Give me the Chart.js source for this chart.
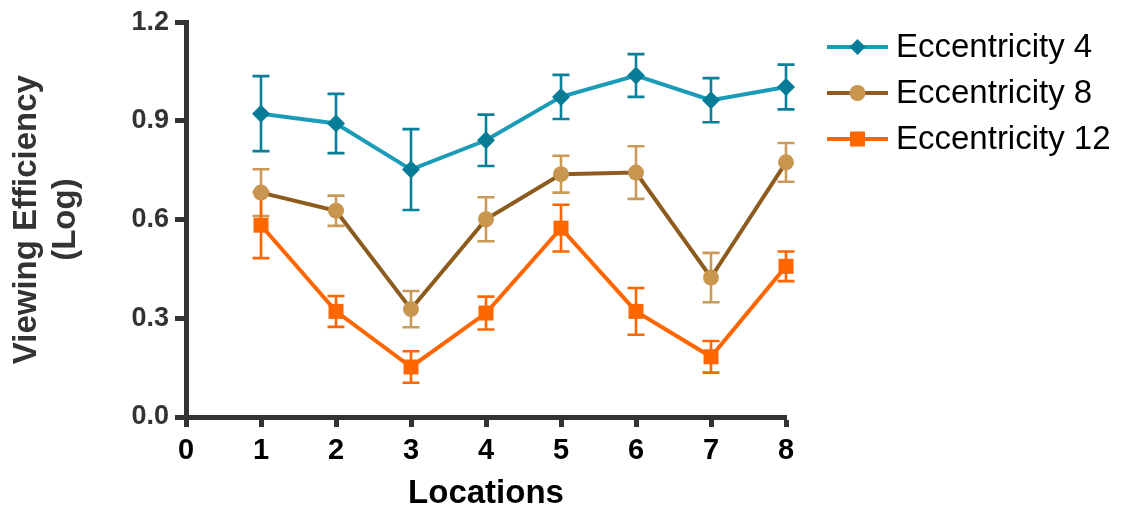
<!DOCTYPE html>
<html>
<head>
<meta charset="utf-8">
<script src="https://cdn.jsdelivr.net/npm/chart.js@4/dist/chart.umd.min.js"></script>
<style>
  html, body { margin: 0; padding: 0; background: #ffffff; }
  #wrap { width: 1123px; height: 510px; position: relative; }
</style>
</head>
<body>
<div id="wrap"><canvas id="c" width="1123" height="510"></canvas></div>
<script>
// ---- data ----
const locations = [1, 2, 3, 4, 5, 6, 7, 8];
const seriesNames = ['Eccentricity 4', 'Eccentricity 8', 'Eccentricity 12'];
const ecc4 = [0.922, 0.892, 0.752, 0.841, 0.973, 1.038, 0.963, 1.003];
const ecc4Err = [0.114, 0.090, 0.123, 0.078, 0.067, 0.065, 0.067, 0.068];
const ecc8 = [0.682, 0.627, 0.328, 0.601, 0.738, 0.743, 0.424, 0.774];
const ecc8Err = [0.071, 0.046, 0.055, 0.067, 0.056, 0.080, 0.075, 0.059];
const ecc12 = [0.583, 0.321, 0.152, 0.316, 0.574, 0.321, 0.183, 0.458];
const ecc12Err = [0.100, 0.047, 0.048, 0.050, 0.071, 0.071, 0.048, 0.045];
const yTicks = [0.0, 0.3, 0.6, 0.9, 1.2];
const xTicks = [0, 1, 2, 3, 4, 5, 6, 7, 8];

const FONT = '"Liberation Sans", Arial, sans-serif';
const styles = [
  { line: '#1a9cb8', point: '#067c96', err: '#0a7f99', pointStyle: 'rectRot', radius: 9 },
  { line: '#8c5b1d', point: '#c8964f', err: '#c99a58', pointStyle: 'circle', radius: 8 },
  { line: '#ff6600', point: '#ff6600', err: '#ff6600', pointStyle: 'rect', radius: 10.6 }
];
const values = [ecc4, ecc8, ecc12];
const errors = [ecc4Err, ecc8Err, ecc12Err];

const datasets = values.map((vals, i) => ({
  label: seriesNames[i],
  data: locations.map((x, j) => ({ x: x, y: vals[j] })),
  errors: errors[i],
  borderColor: styles[i].line,
  backgroundColor: styles[i].point,
  pointBackgroundColor: styles[i].point,
  pointBorderColor: styles[i].point,
  pointBorderWidth: 0,
  pointStyle: styles[i].pointStyle,
  pointRadius: styles[i].radius,
  pointHoverRadius: styles[i].radius,
  borderWidth: 4,
  tension: 0,
  clip: false,
  order: i
}));

const errorBars = {
  id: 'errorBars',
  beforeDatasetsDraw(chart) {
    const ctx = chart.ctx;
    const xs = chart.scales.x, ys = chart.scales.y;
    chart.data.datasets.forEach((ds, i) => {
      ctx.save();
      ctx.strokeStyle = styles[i].err;
      ctx.lineWidth = 2.6;
      ds.data.forEach((p, j) => {
        const e = ds.errors[j];
        const px = xs.getPixelForValue(p.x);
        const yTop = ys.getPixelForValue(p.y + e);
        const yBot = ys.getPixelForValue(p.y - e);
        const cap = 8.5;
        ctx.beginPath();
        ctx.moveTo(px, yTop); ctx.lineTo(px, yBot);
        ctx.moveTo(px - cap, yTop); ctx.lineTo(px + cap, yTop);
        ctx.moveTo(px - cap, yBot); ctx.lineTo(px + cap, yBot);
        ctx.stroke();
      });
      ctx.restore();
    });
  }
};

const customLegend = {
  id: 'customLegend',
  afterDraw(chart) {
    const ctx = chart.ctx;
    const x0 = 827, x1 = 888, tx = 896;
    const rows = [47, 93, 139];
    chart.data.datasets.forEach((ds, i) => {
      const y = rows[i];
      ctx.save();
      ctx.strokeStyle = styles[i].line;
      ctx.lineWidth = 4;
      ctx.beginPath(); ctx.moveTo(x0, y); ctx.lineTo(x1, y); ctx.stroke();
      ctx.fillStyle = styles[i].point;
      const cx = (x0 + x1) / 2;
      ctx.beginPath();
      if (styles[i].pointStyle === 'rectRot') {
        const r = 8;
        ctx.moveTo(cx, y - r); ctx.lineTo(cx + r, y); ctx.lineTo(cx, y + r); ctx.lineTo(cx - r, y); ctx.closePath();
      } else if (styles[i].pointStyle === 'circle') {
        ctx.arc(cx, y, 8, 0, Math.PI * 2);
      } else {
        ctx.rect(cx - 7.5, y - 7.5, 15, 15);
      }
      ctx.fill();
      ctx.fillStyle = '#000000';
      ctx.font = '33px ' + FONT;
      ctx.textBaseline = 'middle';
      ctx.textAlign = 'left';
      ctx.fillText(ds.label, tx, y + 1);
      ctx.restore();
    });
  }
};

new Chart(document.getElementById('c'), {
  type: 'line',
  data: { datasets: datasets },
  plugins: [errorBars, customLegend],
  options: {
    responsive: false,
    animation: false,
    devicePixelRatio: 1,
    layout: { padding: { top: 20, right: 337, bottom: 0, left: 0 } },
    plugins: { legend: { display: false }, tooltip: { enabled: false } },
    scales: {
      x: {
        type: 'linear',
        min: 0, max: 8,
        afterFit(scale) { scale.height = 93; },
        afterBuildTicks(scale) { scale.ticks = xTicks.map(v => ({ value: v })); },
        ticks: {
          autoSkip: false,
          padding: 7,
          color: '#000000',
          font: { family: FONT, size: 29, weight: 'bold' },
          callback: (v) => String(v)
        },
        grid: { display: true, drawOnChartArea: false, drawTicks: true, tickLength: 10, tickWidth: 5, tickColor: '#333333' },
        border: { display: true, width: 5, color: '#333333' },
        title: {
          display: true, text: 'Locations', color: '#000000',
          font: { family: FONT, size: 33, weight: 'bold', lineHeight: 1.0 },
          padding: { top: 0, bottom: 0 }
        }
      },
      y: {
        type: 'linear',
        min: 0, max: 1.2,
        afterFit(scale) { scale.width = 186; },
        afterBuildTicks(scale) { scale.ticks = yTicks.map(v => ({ value: v })); },
        ticks: {
          padding: 6,
          color: '#333333',
          font: { family: FONT, size: 27, weight: 'bold' },
          callback: (v) => Number(v).toFixed(1)
        },
        grid: { display: true, drawOnChartArea: false, drawTicks: true, tickLength: 11, tickWidth: 5, tickColor: '#333333' },
        border: { display: true, width: 5, color: '#333333' },
        title: {
          display: true, text: ['Viewing Efficiency', '(Log)'], color: '#333333',
          font: { family: FONT, size: 33, weight: 'bold', lineHeight: 1.18 },
          padding: { top: 7.5, bottom: 0 }
        }
      }
    }
  }
});
</script>
</body>
</html>
